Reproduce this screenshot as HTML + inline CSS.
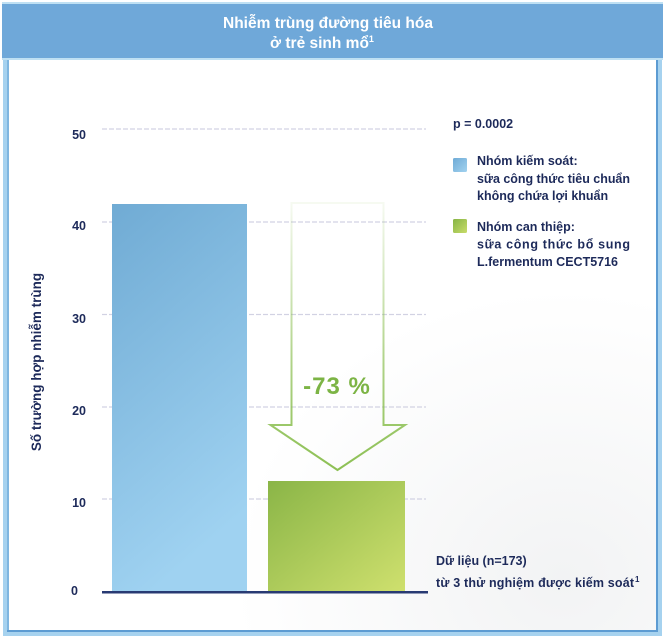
<!DOCTYPE html>
<html><head><meta charset="utf-8">
<style>
html,body{margin:0;padding:0;background:#fff;}
body{width:665px;height:642px;overflow:hidden;}
svg{display:block;}
text{font-family:"Liberation Sans","Noto Sans CJK SC",sans-serif;font-weight:bold;}
</style></head>
<body>
<svg width="665" height="642" viewBox="0 0 665 642" xmlns="http://www.w3.org/2000/svg">
<defs>
  <linearGradient id="bb" x1="0" y1="0" x2="0.3" y2="1">
    <stop offset="0" stop-color="#70abd4"/>
    <stop offset="1" stop-color="#9fd2f1"/>
  </linearGradient>
  <linearGradient id="gb" x1="0" y1="0" x2="1" y2="1">
    <stop offset="0" stop-color="#8ab547"/>
    <stop offset="1" stop-color="#cfe06e"/>
  </linearGradient>
  <linearGradient id="ar" x1="0" y1="203" x2="0" y2="470" gradientUnits="userSpaceOnUse">
    <stop offset="0" stop-color="#8dc054" stop-opacity="0.08"/>
    <stop offset="0.6" stop-color="#8dc054" stop-opacity="0.7"/>
    <stop offset="1" stop-color="#8dc054" stop-opacity="1"/>
  </linearGradient>
  <linearGradient id="lsq" x1="0" y1="0" x2="1" y2="1">
    <stop offset="0" stop-color="#6fabd6"/>
    <stop offset="1" stop-color="#a2d2ef"/>
  </linearGradient>
  <linearGradient id="gsq" x1="0" y1="0" x2="1" y2="1">
    <stop offset="0" stop-color="#86b445"/>
    <stop offset="1" stop-color="#c8dc6a"/>
  </linearGradient>
  <radialGradient id="bg" cx="0.85" cy="0.9" r="0.5">
    <stop offset="0" stop-color="#f2f3f4"/>
    <stop offset="1" stop-color="#ffffff"/>
  </radialGradient>
</defs>

<!-- body background -->
<rect x="3" y="58" width="659" height="578" fill="url(#bg)"/>

<!-- frame borders -->
<rect x="3" y="58" width="6" height="578" fill="#a6d2ef"/>
<rect x="7" y="58" width="2" height="574" fill="#7fb6e0"/>
<rect x="656" y="58" width="6" height="578" fill="#a6d2ef"/>
<rect x="656" y="58" width="2" height="574" fill="#5c9bd2"/>
<rect x="3" y="630" width="659" height="6" fill="#a6d2ef"/>
<rect x="7" y="630" width="651" height="2" fill="#5c9bd2"/>

<!-- header -->
<rect x="2" y="2" width="661" height="3" fill="#bfe0f3"/>
<rect x="2" y="4" width="661" height="55" fill="#6fa8d9"/>
<rect x="2" y="58" width="661" height="2" fill="#bfe0f3"/>
<text x="328" y="28" text-anchor="middle" font-size="15.5" fill="#ffffff">Nhiễm trùng đường tiêu hóa</text>
<text x="322" y="48" text-anchor="middle" font-size="15.5" fill="#ffffff">ở trẻ sinh mổ<tspan font-size="9" dy="-6">1</tspan></text>

<!-- gridlines -->
<g stroke="#d2d2e3" stroke-width="1.3" stroke-dasharray="5,2">
  <line x1="102" y1="129" x2="426" y2="129"/>
  <line x1="102" y1="222" x2="426" y2="222"/>
  <line x1="102" y1="314.5" x2="426" y2="314.5"/>
  <line x1="102" y1="407" x2="426" y2="407"/>
  <line x1="102" y1="499" x2="426" y2="499"/>
</g>

<!-- bars -->
<rect x="112" y="204" width="135" height="388" fill="url(#bb)"/>
<rect x="268" y="481" width="137" height="111" fill="url(#gb)"/>

<!-- axis -->
<rect x="102" y="591" width="326" height="2.5" fill="#283a73"/>

<!-- tick labels -->
<g font-size="12.5" fill="#1d2a5a" text-anchor="end">
  <text x="86" y="139">50</text>
  <text x="86" y="230">40</text>
  <text x="86" y="323">30</text>
  <text x="86" y="415">20</text>
  <text x="86" y="507">10</text>
  <text x="78" y="595">0</text>
</g>

<!-- y axis title -->
<text transform="translate(41,362) rotate(-90)" text-anchor="middle" font-size="13.5" fill="#1d2a5a">Số trường hợp nhiễm trùng</text>

<!-- arrow -->
<path d="M291.5 203 L383.5 203 L383.5 425 L405 425 L337.5 470 L270.5 425 L291.5 425 Z" fill="none" stroke="url(#ar)" stroke-width="2"/>
<text x="337" y="394" text-anchor="middle" font-size="24" letter-spacing="1" fill="#7cb445">-73 %</text>

<!-- legend -->
<g font-size="12.5" fill="#1d2a5a">
  <text x="453" y="128">p = 0.0002</text>
  <rect x="453" y="158" width="14" height="14" rx="1.5" fill="url(#lsq)"/>
  <text x="477" y="165">Nhóm kiếm soát:</text>
  <text x="477" y="183" textLength="153" lengthAdjust="spacing">sữa công thức tiêu chuẩn</text>
  <text x="477" y="200">không chứa lợi khuẩn</text>
  <rect x="453" y="219" width="14" height="14" rx="1.5" fill="url(#gsq)"/>
  <text x="477" y="231">Nhóm can thiệp:</text>
  <text x="477" y="248.5" textLength="153" lengthAdjust="spacing">sữa công thức bổ sung</text>
  <text x="477" y="266">L.fermentum CECT5716</text>
</g>

<!-- footnote -->
<g font-size="12.5" fill="#1d2a5a">
  <text x="436" y="565">Dữ liệu (n=173)</text>
  <text x="436" y="587" textLength="198" lengthAdjust="spacing">từ 3 thử nghiệm được kiếm soát</text>
  <text x="635" y="582" font-size="8">1</text>
</g>
</svg>
</body></html>
